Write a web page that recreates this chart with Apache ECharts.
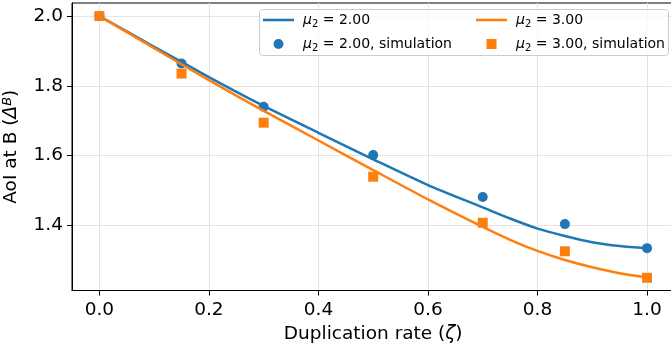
<!DOCTYPE html>
<html>
<head>
<meta charset="utf-8">
<script src="https://cdn.jsdelivr.net/npm/echarts@6/dist/echarts.min.js"></script>
<style>
  html, body { margin: 0; padding: 0; background: #fff; }
  #main { width: 671px; height: 354px; }
</style>
</head>
<body>
<div id="main"></div>
<script>
// analytic curves
const curveX = [0, 0.1, 0.2, 0.3, 0.4, 0.5, 0.6, 0.7, 0.75, 0.8, 0.85, 0.9, 0.95, 1.0];
const curveMu2 = [2.0, 1.912, 1.825, 1.742, 1.665, 1.589, 1.515, 1.451, 1.419, 1.390, 1.369, 1.351, 1.340, 1.334];
const curveMu3 = [2.0, 1.908, 1.816, 1.728, 1.643, 1.558, 1.474, 1.395, 1.358, 1.326, 1.300, 1.279, 1.262, 1.250];

// simulation points
const simX = [0, 0.15, 0.3, 0.5, 0.7, 0.85, 1.0];
const simMu2 = [2.0, 1.864, 1.740, 1.601, 1.481, 1.403, 1.334];
const simMu3 = [2.0, 1.835, 1.694, 1.539, 1.407, 1.325, 1.249];

const xTicks = [0, 0.2, 0.4, 0.6, 0.8, 1.0];
const yTicks = [1.4, 1.6, 1.8, 2.0];
const names = ['μ2 = 2.00', 'μ2 = 2.00, simulation', 'μ2 = 3.00', 'μ2 = 3.00, simulation'];

const FONT = 'DejaVu Sans';
const blue = '#1f77b4';
const orange = '#ff7f0e';

const pairs = (xs, ys) => xs.map((x, i) => [x, ys[i]]);

const lineIcon = 'path://M0 0H31V2.6H0Z';
const squareIcon = 'path://M0 0H10V10H0Z';

const legendText = {
  fontFamily: FONT,
  fontSize: 14,
  color: '#000',
  padding: [0, 0, 0, 4],
  rich: {
    m: { fontFamily: FONT, fontSize: 14, fontStyle: 'italic', lineHeight: 18 },
    s: { fontFamily: FONT, fontSize: 10, lineHeight: 12, verticalAlign: 'bottom' },
    t: { fontFamily: FONT, fontSize: 14, lineHeight: 18 }
  }
};
const legendFmt = name => '{m|μ}{s|2}{t|' + name.slice(2) + '}';

const chart = echarts.init(document.getElementById('main'), null, { renderer: 'canvas' });

chart.setOption({
  animation: false,
  textStyle: { fontFamily: FONT },
  grid: {
    left: 72, top: 3, right: -3.4, bottom: 63.5,
    outerBoundsMode: 'none', containLabel: false,
    show: true, borderColor: '#000', borderWidth: 1
  },
  graphic: [{
    type: 'rect', z: 3,
    shape: { x: 259.5, y: 9.5, width: 409, height: 46, r: 3 },
    style: { fill: 'rgba(255,255,255,0.8)', stroke: '#cccccc', lineWidth: 1 }
  }],
  legend: [
    {
      data: [{ name: names[0], icon: lineIcon }, { name: names[1], icon: 'circle' }],
      orient: 'vertical', left: 263, top: 13,
      itemWidth: 31, itemHeight: 10, itemGap: 8, padding: 0, z: 4,
      formatter: legendFmt, textStyle: legendText
    },
    {
      data: [{ name: names[2], icon: lineIcon }, { name: names[3], icon: squareIcon }],
      orient: 'vertical', left: 476, top: 13,
      itemWidth: 31, itemHeight: 10, itemGap: 8, padding: 0, z: 4,
      formatter: legendFmt, textStyle: legendText
    }
  ],
  xAxis: {
    type: 'value', min: -0.05, max: 1.05,
    name: 'Duplication rate ({z|ζ})', nameLocation: 'middle', nameGap: 33,
    nameTextStyle: {
      fontFamily: FONT, fontSize: 18.5, color: '#000',
      rich: { z: { fontFamily: FONT, fontSize: 18.5, fontStyle: 'italic' } }
    },
    axisLine: { onZero: false, lineStyle: { color: '#000', width: 1 } },
    axisTick: { show: true, length: 5, customValues: xTicks, lineStyle: { color: '#000' } },
    axisLabel: {
      customValues: xTicks, margin: 10, color: '#000', fontFamily: FONT, fontSize: 18.5,
      formatter: v => v.toFixed(1)
    },
    splitLine: { show: true, lineStyle: { color: '#e3e3e3', width: 1 } }
  },
  yAxis: {
    type: 'value', min: 1.2125, max: 2.0375,
    name: 'AoI at B ({d|Δ}{b|B})', nameLocation: 'middle', nameGap: 40,
    nameTextStyle: {
      fontFamily: FONT, fontSize: 18.5, color: '#000', lineHeight: 22,
      rich: {
        d: { fontFamily: FONT, fontSize: 18.5, fontStyle: 'italic', lineHeight: 22 },
        b: { fontFamily: FONT, fontSize: 13, fontStyle: 'italic', lineHeight: 12, verticalAlign: 'top' }
      }
    },
    axisLine: { show: true, onZero: false, lineStyle: { color: '#000', width: 1 } },
    axisTick: { show: true, length: 5, customValues: yTicks, lineStyle: { color: '#000' } },
    axisLabel: {
      customValues: yTicks, margin: 9, color: '#000', fontFamily: FONT, fontSize: 18.5,
      formatter: v => v.toFixed(1)
    },
    splitLine: { show: true, lineStyle: { color: '#e3e3e3', width: 1 } }
  },
  series: [
    {
      name: names[0], type: 'line', data: pairs(curveX, curveMu2),
      smooth: 0.25, symbol: 'none', color: blue,
      lineStyle: { color: blue, width: 2.5 }
    },
    {
      name: names[1], type: 'scatter', data: pairs(simX, simMu2),
      symbol: 'circle', symbolSize: 10, color: blue,
      itemStyle: { color: blue, opacity: 1 }
    },
    {
      name: names[2], type: 'line', data: pairs(curveX, curveMu3),
      smooth: 0.25, symbol: 'none', color: orange,
      lineStyle: { color: orange, width: 2.5 }
    },
    {
      name: names[3], type: 'scatter', data: pairs(simX, simMu3),
      symbol: 'rect', symbolSize: 10, color: orange,
      itemStyle: { color: orange, opacity: 1 }
    }
  ]
});
</script>
</body>
</html>
